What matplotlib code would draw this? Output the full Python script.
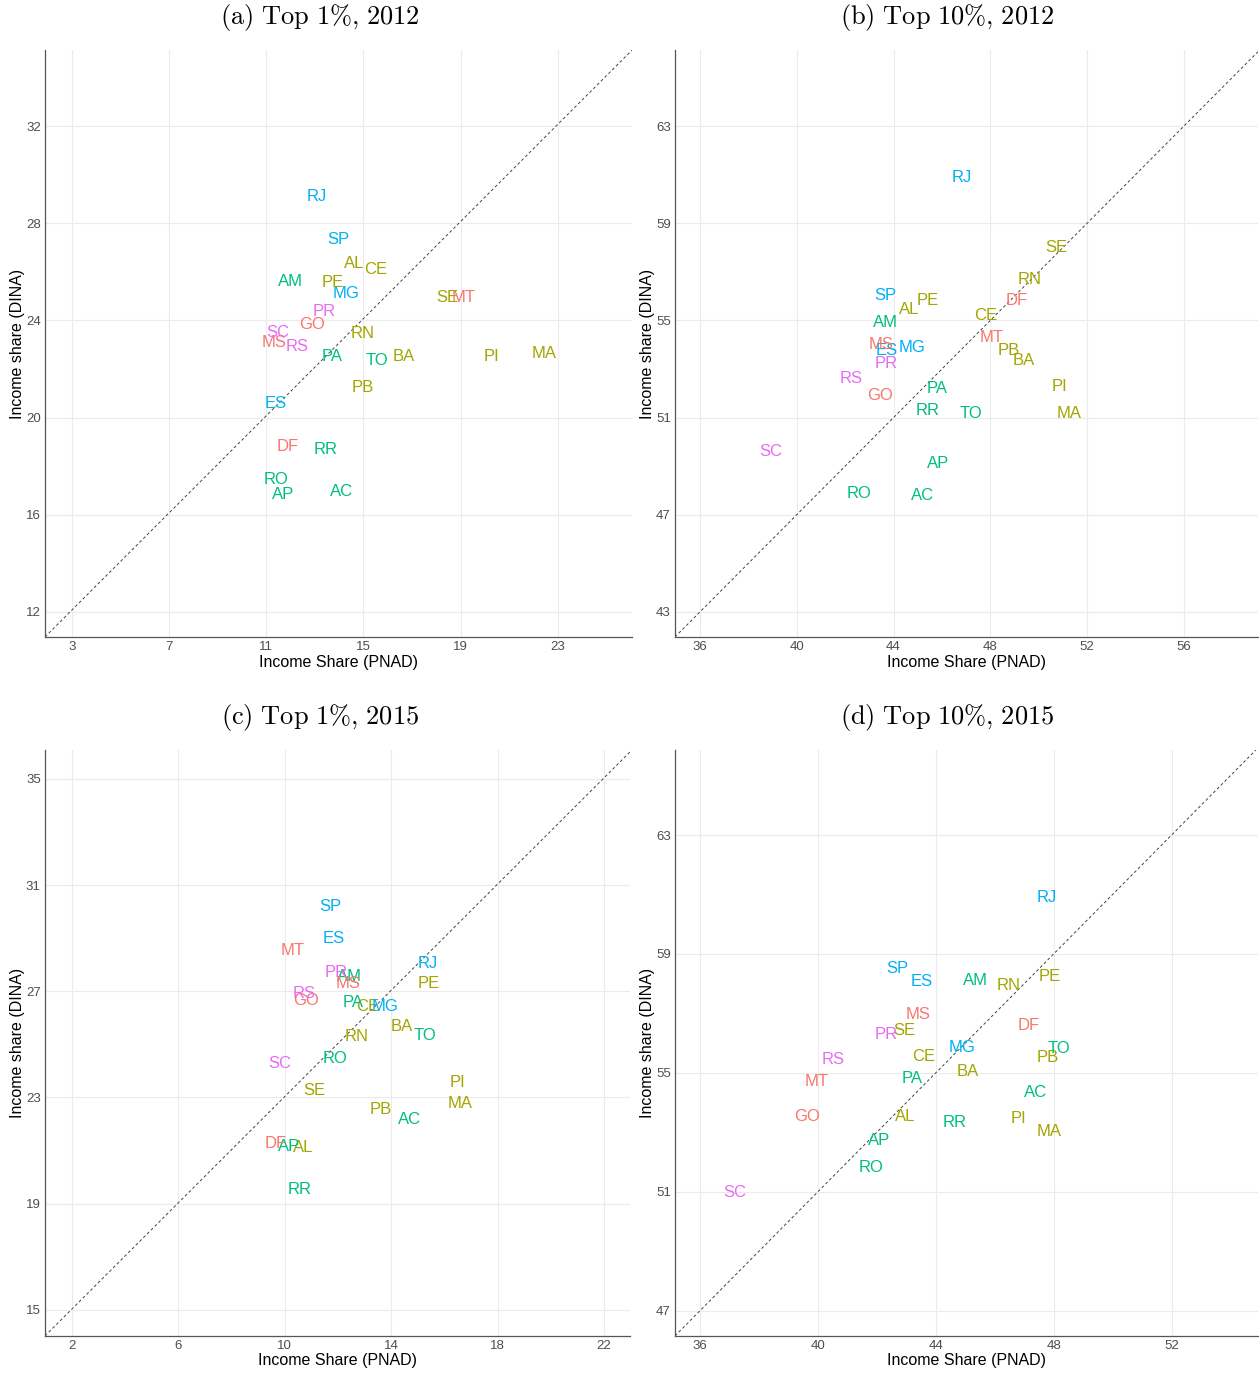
import matplotlib
matplotlib.use('Agg')
import matplotlib.pyplot as plt


states = ['AC', 'AL', 'AM', 'AP', 'BA', 'CE', 'DF', 'ES', 'GO', 'MA', 'MG',
          'MS', 'MT', 'PA', 'PB', 'PE', 'PI', 'PR', 'RJ', 'RN', 'RO', 'RR',
          'RS', 'SC', 'SE', 'SP', 'TO']

region = {
    'Centro-Oeste': ['DF', 'GO', 'MS', 'MT'],
    'Nordeste': ['AL', 'BA', 'CE', 'MA', 'PB', 'PE', 'PI', 'RN', 'SE'],
    'Norte': ['AC', 'AM', 'AP', 'PA', 'RO', 'RR', 'TO'],
    'Sudeste': ['ES', 'MG', 'RJ', 'SP'],
    'Sul': ['PR', 'RS', 'SC'],
}
region_colors = {
    'Centro-Oeste': '#F8766D',
    'Nordeste': '#A3A500',
    'Norte': '#00BF7D',
    'Sudeste': '#00B0F6',
    'Sul': '#E76BF3',
}

# (a) Top 1%, 2012
pnad_top1_2012 = [14.12, 14.63, 12.00, 11.69, 16.67, 15.49, 11.88, 11.41, 12.87,
                  22.43, 14.29, 11.32, 19.13, 13.70, 14.98, 13.75, 20.27, 13.38,
                  13.09, 14.97, 11.41, 13.45, 12.28, 11.49, 18.46, 13.97, 15.57]
dina_top1_2012 = [16.97, 26.36, 25.60, 16.83, 22.52, 26.10, 18.83, 20.59, 23.82,
                  22.64, 25.11, 23.09, 24.95, 22.50, 21.25, 25.56, 22.52, 24.38,
                  29.08, 23.45, 17.47, 18.67, 22.91, 23.52, 24.95, 27.35, 22.34]

# (b) Top 10%, 2012
pnad_top10_2012 = [45.18, 44.66, 43.67, 45.86, 49.39, 47.80, 49.10, 43.73, 43.45,
                   51.25, 44.76, 43.49, 48.07, 45.79, 48.78, 45.41, 50.85, 43.68,
                   46.84, 49.64, 42.57, 45.41, 42.24, 38.94, 50.74, 43.67, 47.20]
dina_top10_2012 = [47.78, 55.43, 54.90, 49.10, 53.34, 55.20, 55.84, 53.77, 51.89,
                   51.16, 53.89, 54.00, 54.29, 52.19, 53.77, 55.84, 52.28, 53.23,
                   60.89, 56.69, 47.88, 51.28, 52.61, 49.62, 57.99, 56.04, 51.18]

# (c) Top 1%, 2015
pnad_top1_2015 = [14.68, 10.70, 12.43, 10.16, 14.39, 13.13, 9.65, 11.83, 10.82,
                  16.59, 13.78, 12.37, 10.30, 12.57, 13.61, 15.40, 16.48, 11.95,
                  15.39, 12.72, 11.89, 10.57, 10.71, 9.81, 11.11, 11.71, 15.27]
dina_top1_2015 = [22.17, 21.12, 27.54, 21.17, 25.66, 26.44, 21.27, 28.99, 26.67,
                  22.79, 26.44, 27.29, 28.55, 26.56, 22.54, 27.29, 23.57, 27.70,
                  28.06, 25.30, 24.45, 19.52, 26.92, 24.27, 23.26, 30.20, 25.35]

# (d) Top 10%, 2015
pnad_top10_2015 = [47.38, 42.95, 45.33, 42.08, 45.08, 43.59, 47.13, 43.50, 39.62,
                   47.84, 44.89, 43.41, 39.94, 43.18, 47.79, 47.87, 46.79, 42.32,
                   47.76, 46.47, 41.79, 44.62, 40.51, 37.17, 42.92, 42.70, 48.17]
dina_top10_2015 = [54.35, 53.54, 58.10, 52.74, 55.04, 55.56, 56.59, 58.07, 53.53,
                   53.03, 55.84, 56.97, 54.71, 54.82, 55.51, 58.26, 53.46, 56.28,
                   60.90, 57.93, 51.82, 53.34, 55.44, 50.99, 56.44, 58.50, 55.82]

titles = ['(a) Top 1%, 2012', '(b) Top 10%, 2012',
          '(c) Top 1%, 2015', '(d) Top 10%, 2015']


def state_color(s):
    for r, members in region.items():
        if s in members:
            return region_colors[r]
    return 'black'


def draw_panel(ax, xs, ys, xlim, ylim, xticks, yticks):
    ax.set_xlim(xlim)
    ax.set_ylim(ylim)
    ax.set_xticks(xticks)
    ax.set_yticks(yticks)
    ax.grid(True, color='#EBEBEB', lw=0.8)
    ax.set_axisbelow(True)
    for side in ['top', 'right']:
        ax.spines[side].set_visible(False)
    for side in ['left', 'bottom']:
        ax.spines[side].set_color('#555555')
        ax.spines[side].set_linewidth(0.9)
    ax.tick_params(length=0, labelsize=9.5, labelcolor='#4D4D4D', pad=3)
    for lab in ax.get_xticklabels() + ax.get_yticklabels():
        lab.set_family('Liberation Sans')
    # dashed reference line from the lower left corner, slope 1
    ax.axline((xlim[0], ylim[0]), slope=1, color='#444444', lw=0.7,
              linestyle=(0, (3, 2.5)))
    for s, x, y in zip(states, xs, ys):
        ax.text(x, y, s, color=state_color(s), fontsize=12,
                ha='center', va='center', family='Liberation Sans')
    ax.set_xlabel('Income Share (PNAD)', fontsize=11.5, labelpad=1,
                  family='Liberation Sans')
    ax.set_ylabel('Income share (DINA)', fontsize=11.5, labelpad=1,
                  family='Liberation Sans')


def main():
    plt.rcParams['mathtext.fontset'] = 'cm'
    fig = plt.figure(figsize=(12.59, 13.74), dpi=100)

    ax_a = fig.add_axes([0.0357, 0.5364, 0.4662, 0.4272])
    ax_b = fig.add_axes([0.5361, 0.5364, 0.4631, 0.4272])
    ax_c = fig.add_axes([0.0357, 0.0277, 0.4647, 0.4265])
    ax_d = fig.add_axes([0.5361, 0.0277, 0.4631, 0.4265])

    draw_panel(ax_a, pnad_top1_2012, dina_top1_2012, (1.9, 26.05), (10.97, 35.13),
               range(3, 24, 4), range(12, 33, 4))
    draw_panel(ax_b, pnad_top10_2012, dina_top10_2012, (34.97, 59.06), (41.97, 66.13),
               range(36, 57, 4), range(43, 64, 4))
    draw_panel(ax_c, pnad_top1_2015, dina_top1_2015, (0.985, 22.98), (14.02, 36.09),
               range(2, 23, 4), range(15, 36, 4))
    draw_panel(ax_d, pnad_top10_2015, dina_top10_2015, (35.15, 54.92), (46.16, 65.86),
               range(36, 53, 4), range(47, 64, 4))

    pos = [(0.254, 0.987), (0.752, 0.987), (0.254, 0.478), (0.752, 0.478)]
    for t, (x, y) in zip(titles, pos):
        t = t.replace(' ', r'\ ').replace('%', r'\%').replace(',', '{,}')
        fig.text(x, y, r'$\mathrm{' + t + '}$', fontsize=19,
                 ha='center', va='center')

    fig.savefig('out.png', dpi=100)


if __name__ == '__main__':
    main()
